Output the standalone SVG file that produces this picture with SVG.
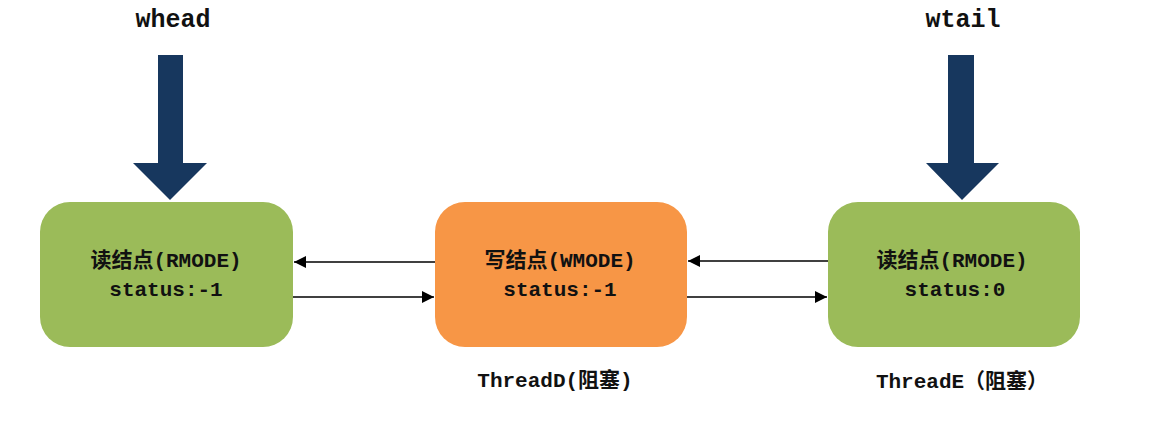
<svg xmlns="http://www.w3.org/2000/svg" width="1153" height="425" viewBox="0 0 1153 425">
<style>
.t{font-family:"Liberation Mono","Noto Sans CJK SC",monospace;font-weight:bold;fill:#111;text-anchor:middle}
.lbl{font-size:21px}
.ptr{font-size:25px}
.conn{stroke:#000;stroke-width:1.5;fill:none}
.green{fill:#9BBB59}
.orange{fill:#F79646}
.big{fill:#17375E}
</style>
<defs>
<marker id="ah" viewBox="0 0 10 10" refX="10" refY="5" markerWidth="12" markerHeight="12" markerUnits="userSpaceOnUse" orient="auto">
<path d="M0,0 L10,5 L0,10 z" fill="#000"/>
</marker>
</defs>
<rect width="1153" height="425" fill="#fff"/>
<g id="whead">
<text class="t ptr" x="173" y="27">whead</text>
<path class="big" d="M158,55 H183 V163 H207 L170,200 L133,163 H158 Z"/>
</g>
<g id="wtail">
<text class="t ptr" x="963" y="27">wtail</text>
<path class="big" d="M948,55 H974 V163 H999 L962,200 L926,163 H948 Z"/>
</g>
<g id="node1">
<rect class="green" x="40" y="202" width="253" height="145" rx="30"/>
<text class="t lbl" x="166" y="267">读结点(RMODE)</text>
<text class="t lbl" x="166" y="296">status:-1</text>
</g>
<g id="node2">
<rect class="orange" x="435" y="202" width="252" height="145" rx="30"/>
<text class="t lbl" x="560" y="267">写结点(WMODE)</text>
<text class="t lbl" x="560" y="296">status:-1</text>
<text class="t lbl" x="555" y="387">ThreadD(阻塞)</text>
</g>
<g id="node3">
<rect class="green" x="828" y="202" width="252" height="145" rx="30"/>
<text class="t lbl" x="952" y="267">读结点(RMODE)</text>
<text class="t lbl" x="955" y="296">status:0</text>
<text class="t lbl" x="962" y="388">ThreadE（阻塞）</text>
</g>
<g id="connectors">
<line class="conn" x1="435" y1="262" x2="294" y2="262" marker-end="url(#ah)"/>
<line class="conn" x1="293" y1="297" x2="434" y2="297" marker-end="url(#ah)"/>
<line class="conn" x1="828" y1="261" x2="688" y2="261" marker-end="url(#ah)"/>
<line class="conn" x1="687" y1="297" x2="827" y2="297" marker-end="url(#ah)"/>
</g>
</svg>
